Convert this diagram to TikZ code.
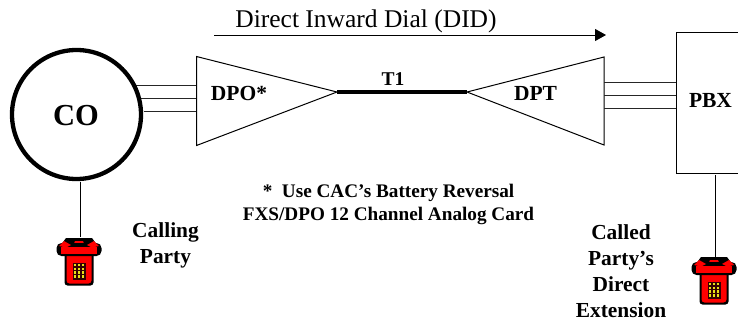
\documentclass[tikz,border=0pt]{standalone}
\usepackage{fontspec}
\setmainfont{Liberation Serif}
\usetikzlibrary{arrows.meta}
\tikzset{
  lbl/.style={font=\bfseries\fontsize{#1}{#1}\selectfont,align=center,inner sep=0pt,text=black},
  lbl/.default=17,
  wire/.style={line width=1pt,black!85},
  outline/.style={draw=black,line width=1pt,fill=white},
  phone/.pic={
    % body
    \fill[black,rounded corners=3pt] (-14.5,14) rectangle (14.5,48.5);
    \fill[red,rounded corners=3pt] (-12.5,15) rectangle (12.5,46.5);
    % cradle
    \fill[black] (-13,1) -- (13,1) -- (21,12) -- (-21,12) -- cycle;
    \fill[red] (-4,4) -- (4,4) -- (6,9) -- (-6,9) -- cycle;
    % handset
    \fill[black,rounded corners=5pt] (-22.5,6) rectangle (22.5,19);
    \fill[red] (-18,10) rectangle (18,16.5);
    \fill[red] (-15,4) -- (-8,8) -- (-13,10.5) -- (-20,9) -- cycle;
    \fill[red] (15,4) -- (8,8) -- (13,10.5) -- (20,9) -- cycle;
    % keypad
    \fill[black!80!red] (-6.5,25.5) rectangle (6.5,42.5);
    \foreach \r in {0,1,2,3}{\foreach \c in {0,1,2}{
      \fill[yellow!90!black] (-5.4+\c*4,26.6+\r*3.9) rectangle ++(2.6,2.4);
    }}
  }
}
\begin{document}
\begin{tikzpicture}[x=1pt,y=-1pt,every node/.style={inner sep=0pt}]
\useasboundingbox (0,0) rectangle (738,324);
\fill[white] (0,0) rectangle (738,324);

% wires behind shapes
\coordinate (dpoA) at (196.5,85.5);
\coordinate (dpoB) at (196.5,98);
\coordinate (dpoC) at (196.5,111);
\coordinate (coA) at (136,85.5);
\coordinate (coB) at (140,98);
\coordinate (coC) at (144,111);
\draw[wire] (coA) -- (dpoA);
\draw[wire] (coB) -- (dpoB);
\draw[wire] (coC) -- (dpoC);

\node[circle,draw=black,line width=4.3pt,fill=white,minimum size=129pt] (co) at (76.5,114.5) {};
\node[lbl=30.5] at (76,115.5) {CO};

\coordinate (dpoT) at (196.5,56.5);
\coordinate (dpoBt) at (196.5,145.5);
\coordinate (dpoTip) at (337,92);
\draw[outline,line join=miter] (dpoT) -- (dpoTip) -- (dpoBt) -- cycle;
\node[lbl=21.5] (dpo) at (239,93.5) {DPO*};

\coordinate (dptT) at (604,57);
\coordinate (dptB) at (604,145);
\coordinate (dptTip) at (467,92);
\draw[outline] (dptT) -- (dptTip) -- (dptB) -- cycle;
\node[lbl=21.5] (dpt) at (535.5,93.5) {DPT};

\draw[line width=3.2pt,black] (dpoTip) -- (dptTip);
\node[lbl=19.5] (t1) at (393,79) {T1};

\node[draw=black,line width=1pt,fill=white,minimum width=80pt,minimum height=141pt] (pbx) at (716,102.5) {};
\node[lbl=21.5] (pbxl) at (710.5,100) {PBX};

\coordinate (ra) at (604,82.7);
\coordinate (rb) at (604,95.7);
\coordinate (rc) at (604,108.5);
\draw[wire] (ra) -- (ra -| pbx.west);
\draw[wire] (rb) -- (rb -| pbx.west);
\draw[wire] (rc) -- (rc -| pbx.west);

% DID arrow
\coordinate (didA) at (214,35);
\coordinate (didB) at (606,35);
\draw[line width=1pt,-{Triangle[length=11pt,width=12pt]}] (didA) -- (didB);
\node[font=\fontsize{25.5}{25.5}\selectfont] (did) at (366,21) {Direct Inward Dial (DID)};

% phones
\coordinate (ph1) at (79,237);
\coordinate (ph2) at (714,256);
\draw[line width=1pt] (80.5,182) coordinate (l1) -- (80.5,237);
\draw[line width=1pt] (715.5,175) coordinate (l2) -- (715.5,257);
\pic at (ph1) {phone};
\pic at (ph2) {phone};

% texts
\node[font=\bfseries\fontsize{19.2}{23}\selectfont,align=center] (note) at (388.5,204.5) {*\ \ Use CAC’s Battery Reversal\\FXS/DPO 12 Channel Analog Card};
\node[font=\bfseries\fontsize{21.4}{25.5}\selectfont,align=center] (calling) at (165.5,245.5) {Calling\\Party};
\node[font=\bfseries\fontsize{21.4}{26.2}\selectfont,align=center] (called) at (621,271) {Called\\Party’s\\Direct\\Extension};
\end{tikzpicture}
\end{document}
